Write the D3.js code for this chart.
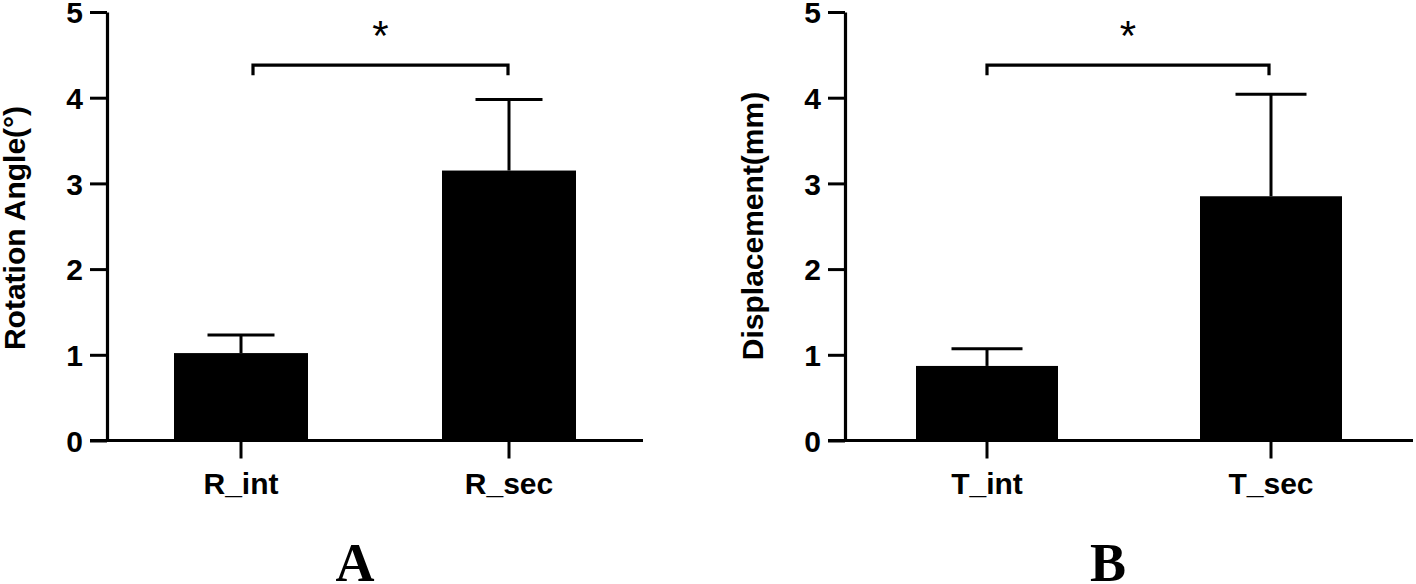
<!DOCTYPE html>
<html><head><meta charset="utf-8">
<script src="https://cdn.jsdelivr.net/npm/d3@7"></script>
<style>body{margin:0;background:#fff}svg{display:block}</style>
</head><body>
<svg id="c" width="1416" height="584"></svg>
<script>
// ---- data ----
const catsA = ["R_int", "R_sec"];
const meansA = [1.02, 3.15];
const sdA = [0.21, 0.83];
const catsB = ["T_int", "T_sec"];
const meansB = [0.87, 2.85];
const sdB = [0.20, 1.19];
const yTicks = [0, 1, 2, 3, 4, 5];
const yLabelA = "Rotation Angle(°)";
const yLabelB = "Displacement(mm)";
const sigLevel = 4.38;
const sigMark = "*";
const panelLetters = ["A", "B"];

const svg = d3.select("#c");
const font = "'Liberation Sans', Arial, sans-serif";

const panels = [
  {cats: catsA, means: meansA, sd: sdA, label: yLabelA, letter: panelLetters[0],
   x0: 107, x1: 643, labX: 25, labY: 228, letterX: 355, brL: 12, brR: -1},
  {cats: catsB, means: meansB, sd: sdB, label: yLabelB, letter: panelLetters[1],
   x0: 845, x1: 1413, labX: 763, labY: 226, letterX: 1108, brL: 0, brR: -2}
];

panels.forEach(p => {
  const g = svg.append("g");
  const x = d3.scaleBand().domain(p.cats).range([p.x0, p.x1]).paddingInner(0.5).paddingOuter(0.25);
  const y = d3.scaleLinear().domain([0, 5]).range([440.5, 12]);
  const bw = x.bandwidth();

  // bars
  g.selectAll("rect.bar").data(p.cats).enter().append("rect")
    .attr("x", d => x(d)).attr("width", bw)
    .attr("y", (d, i) => y(p.means[i])).attr("height", (d, i) => y(0) - y(p.means[i]))
    .attr("fill", "#000");

  // error bars
  const cap = bw * 0.5;
  p.cats.forEach((c, i) => {
    const cx = x(c) + bw / 2;
    g.append("line").attr("x1", cx).attr("x2", cx)
      .attr("y1", y(p.means[i])).attr("y2", y(p.means[i] + p.sd[i]))
      .attr("stroke", "#000").attr("stroke-width", 3);
    g.append("line").attr("x1", cx - cap / 2).attr("x2", cx + cap / 2)
      .attr("y1", y(p.means[i] + p.sd[i])).attr("y2", y(p.means[i] + p.sd[i]))
      .attr("stroke", "#000").attr("stroke-width", 3);
  });

  // y axis
  const ya = g.append("g").attr("transform", `translate(${p.x0},0)`)
    .call(d3.axisLeft(y).tickValues(yTicks).tickSize(17).tickPadding(7).tickSizeOuter(0).tickFormat(d3.format("d")));
  ya.select(".domain").attr("stroke-width", 3.2);
  ya.selectAll(".tick line").attr("stroke-width", 3);
  ya.selectAll(".tick text").attr("font-family", font).attr("font-weight", "bold")
    .attr("font-size", 30).attr("fill", "#000").attr("dy", "0.36em");

  // x axis
  const xa = g.append("g").attr("transform", `translate(0,${y(0)})`)
    .call(d3.axisBottom(x).tickSize(18).tickPadding(14).tickSizeOuter(0));
  xa.select(".domain").attr("stroke-width", 3.2).attr("d", `M${p.x0 - 17},0H${p.x1}`);
  xa.selectAll(".tick line").attr("stroke-width", 3);
  xa.selectAll(".tick text").attr("font-family", font).attr("font-weight", "bold")
    .attr("font-size", 30).attr("fill", "#000");

  // y label
  g.append("text").attr("transform", `translate(${p.labX},${p.labY}) rotate(-90)`)
    .attr("text-anchor", "middle").attr("font-family", font).attr("font-weight", "bold")
    .attr("font-size", 30).attr("fill", "#000").text(p.label);

  // significance bracket
  const bl = x(p.cats[0]) + bw / 2 + p.brL;
  const br = x(p.cats[1]) + bw / 2 + p.brR;
  const by = y(sigLevel);
  g.append("path").attr("d", `M${bl},${by + 10}V${by}H${br}V${by + 10}`)
    .attr("fill", "none").attr("stroke", "#000").attr("stroke-width", 3.2);
  g.append("text").attr("x", (bl + br) / 2).attr("y", 50).attr("text-anchor", "middle")
    .attr("font-family", font).attr("font-size", 42).attr("fill", "#000").text(sigMark);

  // panel letter
  g.append("text").attr("x", p.letterX).attr("y", 581).attr("text-anchor", "middle")
    .attr("font-family", "'Liberation Serif', 'Times New Roman', serif").attr("font-weight", "bold")
    .attr("font-size", 54).attr("fill", "#000").text(p.letter);
});
</script>
</body></html>
